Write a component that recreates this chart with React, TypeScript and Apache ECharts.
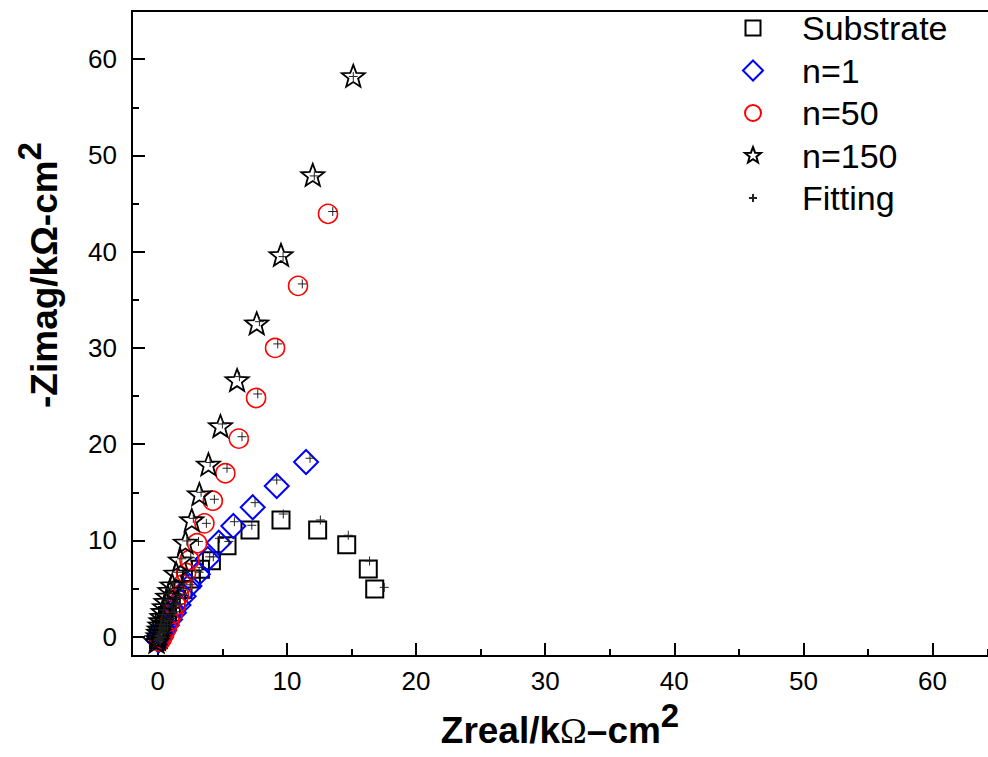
import React, { useEffect, useRef } from "react";
import * as echarts from "echarts";

// ---- data (kΩ·cm²) ----
const substrateX = [0.05, 0.15, 0.3, 0.5, 0.75, 1.05, 1.45, 1.95, 2.6, 3.3, 4.15, 5.36, 7.14, 9.54, 12.38, 14.63, 16.3, 16.8];
const substrateY = [-0.3, 0.2, 0.8, 1.5, 2.2, 3.0, 3.9, 4.9, 6.0, 7.0, 7.9, 9.46, 11.09, 12.13, 11.09, 9.56, 7.03, 4.95];

const n1X = [0.05, 0.15, 0.3, 0.5, 0.7, 0.95, 1.25, 1.6, 2.0, 2.45, 3.1, 3.87, 4.72, 5.85, 7.35, 9.21, 11.48];
const n1Y = [-0.4, -0.1, 0.3, 0.7, 1.2, 1.8, 2.5, 3.3, 4.2, 5.27, 6.5, 8.07, 9.77, 11.5, 13.45, 15.66, 18.15];

const n50X = [0.15, 0.3, 0.5, 0.7, 0.9, 1.15, 1.4, 1.65, 1.9, 2.19, 2.45, 3.04, 3.61, 4.26, 5.23, 6.27, 7.61, 9.08, 10.86, 13.18];
const n50Y = [-0.5, -0.2, 0.3, 0.9, 1.6, 2.4, 3.3, 4.3, 5.4, 6.62, 7.97, 9.71, 11.78, 14.13, 16.98, 20.58, 24.8, 30.0, 36.45, 43.93];

const n150X = [-0.1, 0.0, 0.03, 0.07, 0.12, 0.18, 0.25, 0.33, 0.42, 0.52, 0.64, 0.78, 0.94, 1.11, 1.42, 1.75, 2.14, 2.63, 3.22, 3.92, 4.85, 6.14, 7.66, 9.54, 12.0, 15.14];
const n150Y = [-0.5, -0.2, 0.1, 0.45, 0.8, 1.2, 1.65, 2.1, 2.6, 3.1, 3.65, 4.2, 4.8, 5.37, 6.59, 7.97, 9.81, 12.13, 14.83, 17.92, 21.9, 26.68, 32.57, 39.67, 47.98, 58.27];

const fitSubstrateX = [0.1, 0.2, 0.35, 0.55, 0.8, 1.1, 1.5, 2.0, 2.65, 3.4, 4.3, 5.5, 7.28, 9.72, 12.59, 14.75, 16.4, 17.54];
const fitSubstrateY = [-0.2, 0.3, 0.9, 1.6, 2.3, 3.1, 4.0, 5.0, 6.1, 7.2, 8.3, 9.9, 11.58, 12.75, 12.13, 10.54, 7.87, 5.13];

const fitN1X = [0.1, 0.2, 0.35, 0.55, 0.75, 1.0, 1.3, 1.65, 2.05, 2.5, 3.2, 4.02, 4.77, 5.93, 7.53, 9.21, 11.79];
const fitN1Y = [-0.3, 0.0, 0.4, 0.8, 1.3, 1.9, 2.6, 3.4, 4.3, 5.4, 6.7, 8.3, 10.22, 11.95, 13.93, 16.28, 18.54];

const fitN50X = [0.2, 0.35, 0.55, 0.75, 0.95, 1.2, 1.45, 1.7, 1.95, 2.25, 2.55, 3.15, 3.76, 4.38, 5.36, 6.52, 7.74, 9.29, 11.19, 13.55];
const fitN50Y = [-0.4, -0.1, 0.4, 1.0, 1.7, 2.5, 3.4, 4.4, 5.5, 6.8, 8.2, 9.9, 11.78, 14.28, 17.5, 20.78, 25.22, 30.42, 36.65, 44.17];

const fitN150X = [0.0, 0.05, 0.1, 0.15, 0.22, 0.3, 0.38, 0.47, 0.58, 0.7, 0.85, 1.0, 1.2, 1.52, 1.86, 2.25, 2.75, 3.35, 4.05, 5.0, 6.32, 7.87, 9.7, 12.12, 15.14];
const fitN150Y = [-0.3, 0.1, 0.5, 0.9, 1.3, 1.8, 2.3, 2.8, 3.3, 3.9, 4.5, 5.0, 5.6, 6.7, 8.1, 9.95, 12.3, 15.0, 18.1, 22.1, 27.02, 32.73, 39.49, 47.87, 58.2];

// axis ranges; major ticks every 10 (auto split), minor ticks offset by 5
const xRange = [-2, 64.3];
const yRange = [-2, 65];
const minorShift = 5;

const zip = (xs: number[], ys: number[]) => xs.map((x, i) => [x, ys[i]]);

const STAR =
  "path://M50 0L62.34 33.01L97.55 34.55L69.97 56.49L79.39 90.45L50 71L20.61 90.45L30.03 56.49L2.45 34.55L37.66 33.01Z";
const PLUS = "path://M5 0V10M0 5H10";

export default function App() {
  const ref = useRef<HTMLDivElement>(null);
  useEffect(() => {
    if (!ref.current) return;
    const chart = echarts.init(ref.current, undefined, { renderer: "svg" });
    const font = "'Liberation Sans', Arial, sans-serif";
    const black = "#000";
    const titleRich = {
      t: { fontFamily: font, fontSize: 37, fontWeight: "bold", color: black, lineHeight: 50, verticalAlign: "bottom" },
      o: { fontFamily: "'Liberation Serif', 'Times New Roman', serif", fontSize: 36, color: black, lineHeight: 50, verticalAlign: "bottom" },
      s: { fontFamily: font, fontSize: 33, fontWeight: "bold", color: black, lineHeight: 50, verticalAlign: "top" },
    };
    const mainAxis = (range: number[], position: string, margin: number) => ({
      type: "value",
      min: range[0],
      max: range[1],
      position,
      axisLine: { show: true, onZero: false, lineStyle: { color: black, width: 2 } },
      axisTick: { show: true, inside: true, length: 13, lineStyle: { width: 2, color: black } },
      axisLabel: {
        show: true,
        margin,
        fontFamily: font,
        fontSize: 26,
        color: black,
        showMinLabel: false,
        showMaxLabel: false,
      },
      splitLine: { show: false },
    });
    const minorAxis = (range: number[], position: string) => ({
      type: "value",
      min: range[0] - minorShift,
      max: range[1] - minorShift,
      position,
      axisLine: { show: true, onZero: false, lineStyle: { color: black, width: 2 } },
      axisTick: { show: true, inside: true, length: 7, lineStyle: { width: 2, color: black } },
      axisLabel: { show: false },
      splitLine: { show: false },
    });
    chart.setOption({
      animation: false,
      backgroundColor: "#fff",
      grid: { left: 132, right: 0, top: 11, bottom: 101, outerBoundsMode: "none" },
      legend: {
        orient: "vertical",
        left: 742,
        top: 11,
        padding: 0,
        itemWidth: 20,
        itemHeight: 20,
        itemGap: 8.5,
        textStyle: { fontFamily: font, fontSize: 34, color: black, padding: [0, 0, 0, 34] },
        data: [
          { name: "Substrate", icon: "path://M0 0M20 20M2.5 2.5H17.5V17.5H2.5Z" },
          { name: "n=1", icon: "path://M10 0L20 10L10 20L0 10Z" },
          { name: "n=50", icon: "path://M0 0M20 20M2 10A8 8 0 1 1 18 10A8 8 0 1 1 2 10Z" },
          { name: "n=150", icon: "path://M0 0M100 100M50 8L60.5 36.1L90.4 37.4L67 56L75 84.9L50 68.4L25 84.9L33 56L9.6 37.4L39.5 36.1Z" },
          { name: "Fitting", icon: "path://M0 0M20 20M6 10H14M10 6V14" },
        ],
      },
      graphic: [
        {
          type: "text",
          x: 63,
          y: 275,
          rotation: Math.PI / 2,
          style: {
            text: "{t|-Zimag/kΩ-cm}{s|2}",
            rich: titleRich,
            align: "center",
            verticalAlign: "bottom",
          },
        },
      ],
      xAxis: [
        {
          ...mainAxis(xRange, "bottom", 12),
          name: "{t|Zreal/k}{o|Ω}{t|–cm}{s|2}",
          nameLocation: "middle",
          nameGap: 42,
          nameTextStyle: { rich: titleRich },
        },
        minorAxis(xRange, "bottom"),
        {
          type: "value",
          min: xRange[0],
          max: xRange[1],
          position: "top",
          axisLine: { show: true, onZero: false, lineStyle: { color: black, width: 2 } },
          axisTick: { show: false },
          axisLabel: { show: false },
          splitLine: { show: false },
        },
      ],
      yAxis: [mainAxis(yRange, "left", 15), minorAxis(yRange, "left")],
      series: [
        {
          name: "Substrate",
          type: "scatter",
          symbol: "rect",
          symbolSize: 17,
          itemStyle: { color: "rgba(0,0,0,0)", borderColor: black, borderWidth: 2, opacity: 1 },
          data: zip(substrateX, substrateY),
        },
        {
          name: "n=1",
          type: "scatter",
          symbol: "diamond",
          symbolSize: 24,
          itemStyle: { color: "rgba(0,0,0,0)", borderColor: "#0000ff", borderWidth: 2, opacity: 1 },
          data: zip(n1X, n1Y),
        },
        {
          name: "n=50",
          type: "scatter",
          symbol: "circle",
          symbolSize: 19,
          itemStyle: { color: "rgba(0,0,0,0)", borderColor: "#ff0000", borderWidth: 1.6, opacity: 1 },
          data: zip(n50X, n50Y),
        },
        {
          name: "n=150",
          type: "scatter",
          symbol: STAR,
          symbolKeepAspect: true,
          symbolSize: 23,
          itemStyle: { color: "rgba(0,0,0,0)", borderColor: black, borderWidth: 1.8, opacity: 1 },
          data: zip(n150X, n150Y),
        },
        {
          name: "Fitting",
          type: "scatter",
          symbol: PLUS,
          symbolSize: 9,
          itemStyle: { color: "rgba(0,0,0,0)", borderColor: "#222", borderWidth: 1, opacity: 1 },
          data: [
            ...zip(fitSubstrateX, fitSubstrateY),
            ...zip(fitN1X, fitN1Y),
            ...zip(fitN50X, fitN50Y),
            ...zip(fitN150X, fitN150Y),
          ],
        },
      ],
    });
    return () => chart.dispose();
  }, []);
  return <div ref={ref} style={{ position: "absolute", left: 0, top: 0, width: 988, height: 757 }} />;
}
